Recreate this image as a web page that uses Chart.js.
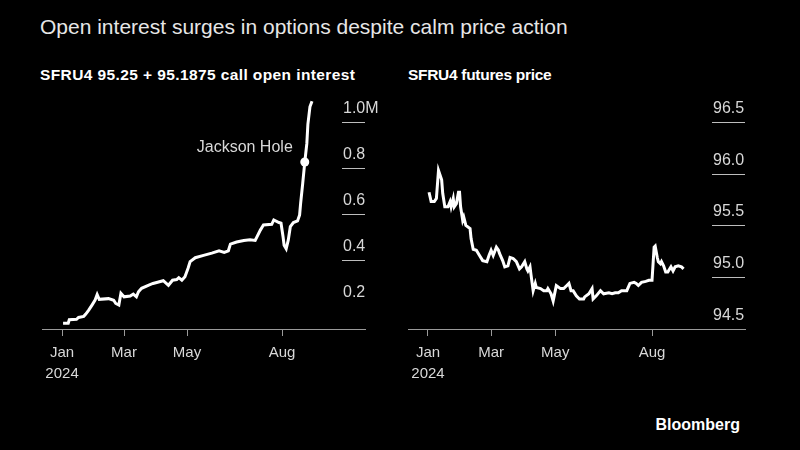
<!DOCTYPE html>
<html>
<head>
<meta charset="utf-8">
<script src="https://cdn.jsdelivr.net/npm/chart.js@4"></script>
<style>
  html, body { margin: 0; padding: 0; background: #000; }
  #wrap { position: relative; width: 800px; height: 450px; background: #000; overflow: hidden;
          font-family: "Liberation Sans", Arial, sans-serif; }
  .title { position: absolute; left: 40px; top: 15px; font-size: 21px; color: #e6e6e6; }
  .sub { position: absolute; top: 66px; font-size: 15.5px; font-weight: bold; color: #fff; }
  .brand { position: absolute; right: 60px; top: 416px; font-size: 16px; font-weight: bold; color: #fff; }
  canvas { position: absolute; }
</style>
</head>
<body>
<div id="wrap">
  <div class="title">Open interest surges in options despite calm price action</div>
  <div class="sub" style="left:40px;letter-spacing:0.4px">SFRU4 95.25 + 95.1875 call open interest</div>
  <div class="sub" style="left:408px;letter-spacing:-0.3px">SFRU4 futures price</div>
  <canvas id="oiChart" width="390" height="300" style="left:0;top:90px"></canvas>
  <canvas id="pxChart" width="390" height="300" style="left:400px;top:90px"></canvas>
  <div class="brand">Bloomberg</div>
</div>
<script>
// x values are days since 2024-01-01
const tickDays = [0, 60, 121, 213];
const tickLabels = [["Jan", "2024"], ["Mar"], ["May"], ["Aug"]];

// SFRU4 95.25 + 95.1875 call open interest (millions)
const oiDays = [1, 6, 7, 14, 16, 21, 23, 26, 29, 32, 34, 36, 45, 50, 52, 55, 57, 60, 66, 69, 72, 74, 77,
  84, 88, 98, 103, 107, 111, 113, 116, 119, 122, 124, 129, 137, 145, 152, 157, 161, 163, 169, 176,
  182, 187, 192, 195, 203, 205, 210, 212, 214, 215, 217, 219, 221, 224, 228, 230, 231, 233, 235,
  237, 238, 240, 242];
const oiValues = [0.125, 0.125, 0.14, 0.142, 0.15, 0.155, 0.165, 0.183, 0.204, 0.226, 0.25, 0.229, 0.232, 0.225, 0.211, 0.204, 0.255, 0.24, 0.243,
  0.252, 0.24, 0.262, 0.277, 0.291, 0.298, 0.31, 0.29, 0.312, 0.315, 0.323, 0.312, 0.327, 0.364, 0.393, 0.41, 0.42,
  0.43, 0.44, 0.433, 0.44, 0.469, 0.478, 0.485, 0.488, 0.485, 0.53, 0.552, 0.555, 0.574, 0.563, 0.56,
  0.5, 0.464, 0.449, 0.486, 0.545, 0.563, 0.57, 0.596, 0.647, 0.733, 0.826, 0.907, 0.99, 1.066, 1.09];
const oiTicks = [0.2, 0.4, 0.6, 0.8, 1.0];
const jacksonHoleDay = 235;

// SFRU4 futures price
const pxDays = [1, 3, 6, 8, 10, 13, 14, 16, 19, 21, 22, 24, 25, 27, 29, 30, 31, 33, 34, 36, 40, 41, 43,
  46, 49, 52, 56, 58, 60, 62, 65, 67, 68, 71, 73, 76, 78, 81, 84, 87, 89, 92, 94, 95, 97, 98, 100,
  102, 103, 107, 110, 113, 114, 117, 119, 120, 122, 126, 129, 132, 134, 136, 138, 141, 144, 148,
  149, 153, 156, 157, 160, 164, 167, 172, 175, 178, 181, 184, 189, 192, 196, 198, 200, 203, 207,
  210, 213, 215, 216, 218, 219, 221, 222, 224, 226, 228, 231, 233, 235, 238, 241, 243];
const pxValues = [95.82, 95.73, 95.73, 95.76, 96.03, 95.94, 95.81, 95.68, 95.68, 95.73, 95.68, 95.76,
  95.68, 95.71, 95.82, 95.82, 95.68, 95.55, 95.58, 95.5, 95.47, 95.37, 95.27, 95.26, 95.21, 95.16,
  95.15, 95.21, 95.26, 95.21, 95.29, 95.26, 95.23, 95.16, 95.1, 95.11, 95.19, 95.18, 95.15, 95.08,
  95.1, 95.15, 95.08, 95.06, 95.1, 95.02, 94.87, 94.94, 94.9, 94.89, 94.87, 94.87, 94.89, 94.84,
  94.77, 94.82, 94.92, 94.89, 94.89, 94.92, 94.94, 94.87, 94.87, 94.82, 94.79, 94.79, 94.81, 94.84,
  94.89, 94.79, 94.82, 94.87, 94.84, 94.85, 94.84, 94.85, 94.85, 94.87, 94.87, 94.94, 94.95, 94.94,
  94.92, 94.95, 94.96, 94.97, 94.97, 95.29, 95.3, 95.19, 95.15, 95.13, 95.15, 95.11, 95.05, 95.05,
  95.1, 95.06, 95.1, 95.11, 95.1, 95.08];
const pxTicks = [94.5, 95.0, 95.5, 96.0, 96.5];

const FONT = "'Liberation Sans', Arial, sans-serif";

// short right-hand gridlines with the value sitting above each one
function sideAxis(cfg) {
  return {
    id: "sideAxis",
    afterDraw(chart) {
      const { ctx, chartArea } = chart;
      const y = chart.scales.y;
      const x0 = chartArea.right - cfg.gridLen;
      ctx.save();
      ctx.font = "16px " + FONT;
      ctx.textAlign = "left";
      ctx.textBaseline = "alphabetic";
      cfg.yTicks.forEach((v, i) => {
        const py = Math.round(y.getPixelForValue(v)) + 0.5;
        if (i > 0) {
          ctx.strokeStyle = "#bdbdbd";
          ctx.lineWidth = 1;
          ctx.beginPath();
          ctx.moveTo(x0, py);
          ctx.lineTo(chartArea.right, py);
          ctx.stroke();
        }
        ctx.fillStyle = "#d8d8d8";
        ctx.fillText(cfg.format(v), x0 + 1, py - 10);
      });
      if (cfg.note) {
        const pts = chart.data.datasets[0].data;
        const p = pts.find((d) => d.x === cfg.note.day);
        const px = chart.scales.x.getPixelForValue(p.x);
        const vy = y.getPixelForValue(p.y);
        ctx.textAlign = "right";
        ctx.fillText(cfg.note.text, px - 12, vy - 10);
      }
      ctx.restore();
    },
  };
}

function makeChart(id, days, values, cfg) {
  const data = days.map((d, i) => ({ x: d, y: values[i] }));
  return new Chart(document.getElementById(id), {
    type: "line",
    data: {
      datasets: [
        {
          data,
          borderColor: "#ffffff",
          borderWidth: 3,
          tension: 0,
          pointRadius: data.map((p) => (p.x === cfg.dotDay ? 4.5 : 0)),
          pointBackgroundColor: "#ffffff",
          pointBorderWidth: 0,
        },
      ],
    },
    options: {
      responsive: false,
      animation: false,
      devicePixelRatio: 1,
      layout: { padding: cfg.padding },
      plugins: {
        legend: { display: false },
        tooltip: { enabled: false },
      },
      scales: {
        x: {
          type: "linear",
          min: cfg.xMin,
          max: cfg.xMax,
          afterBuildTicks: (s) => {
            s.ticks = tickDays.map((v) => ({ value: v }));
          },
          afterFit: (s) => {
            s.height = 60;
          },
          border: { display: true, color: "#9a9a9a", width: 1 },
          grid: { drawOnChartArea: false, drawTicks: true, tickLength: 7, color: "#9a9a9a" },
          ticks: {
            color: "#d8d8d8",
            font: { family: FONT, size: 15, lineHeight: 1.35 },
            padding: 7,
            maxRotation: 0,
            autoSkip: false,
            callback: (v) => {
              const i = tickDays.indexOf(v);
              return i >= 0 ? tickLabels[i] : "";
            },
          },
        },
        y: { display: false, min: cfg.yMin, max: cfg.yMax },
      },
    },
    plugins: [sideAxis(cfg)],
  });
}

makeChart("oiChart", oiDays, oiValues, {
  padding: { left: 42, right: 25, top: 9, bottom: 1 },
  xMin: -19.4,
  xMax: 293.3,
  yMin: 0.1,
  yMax: 1.1,
  yTicks: oiTicks,
  gridLen: 23,
  format: (v) => (v === 1.0 ? "1.0M" : v.toFixed(1)),
  dotDay: jacksonHoleDay,
  note: { day: jacksonHoleDay, text: "Jackson Hole" },
});

makeChart("pxChart", pxDays, pxValues, {
  padding: { left: 8, right: 45, top: 9, bottom: 1 },
  xMin: -19,
  xMax: 301.4,
  yMin: 94.5,
  yMax: 96.72,
  yTicks: pxTicks,
  gridLen: 33,
  format: (v) => v.toFixed(1),
});
</script>
</body>
</html>
